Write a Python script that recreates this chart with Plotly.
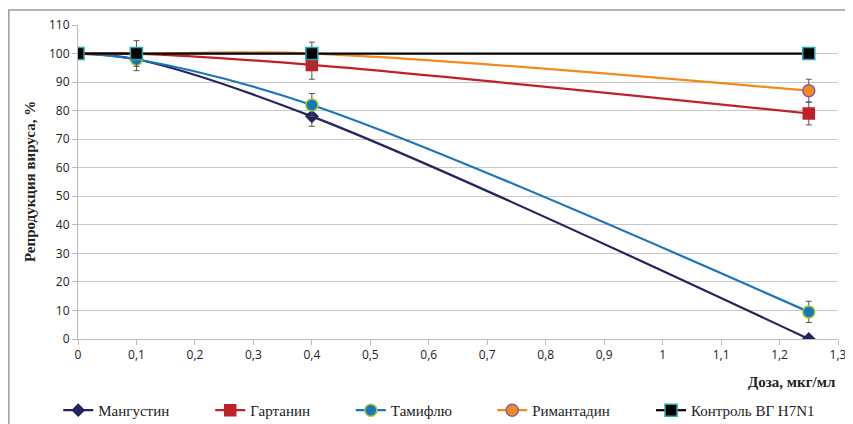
import plotly.graph_objects as go

dose = [0, 0.1, 0.4, 1.25]
series_names = ["Мангустин", "Гартанин", "Тамифлю", "Римантадин", "Контроль ВГ H7N1"]
mangustin = [100, 98, 78, 0]
gartanin = [100, 100, 96, 79]
tamiflu = [100, 98, 82, 9.5]
rimantadin = [100, 100, 100, 87]
control = [100, 100, 100, 100]

err_mangustin = [0, 0, 3.5, 0.5]
err_gartanin = [0, 0, 5, 4]
err_tamiflu = [0, 4, 4, 3.7]
err_rimantadin = [0, 0, 0, 4]
err_control = [0, 4.5, 4, 0]

x_ticks = [0, 0.1, 0.2, 0.3, 0.4, 0.5, 0.6, 0.7, 0.8, 0.9, 1, 1.1, 1.2, 1.3]
x_tick_text = ["0", "0,1", "0,2", "0,3", "0,4", "0,5", "0,6", "0,7", "0,8", "0,9", "1", "1,1", "1,2", "1,3"]
y_ticks = list(range(0, 111, 10))

SERIF = "Liberation Serif"

styles = [
    dict(y=mangustin, e=err_mangustin, color="#22245e", symbol="diamond", size=9, oc="#22245e"),
    dict(y=gartanin, e=err_gartanin, color="#c0202a", symbol="square", size=11, oc="#c0202a"),
    dict(y=tamiflu, e=err_tamiflu, color="#1a75bc", symbol="circle", size=12, oc="#9acd32"),
    dict(y=rimantadin, e=err_rimantadin, color="#f28a1c", symbol="circle", size=12, oc="#8a5aa8"),
    dict(y=control, e=err_control, color="#000000", symbol="square", size=12, oc="#2aa6b8"),
]
legend_ids = ["legend", "legend2", "legend3", "legend4", "legend5"]
legend_x = [-0.026, 0.174, 0.359, 0.545, 0.754]

fig = go.Figure()
for name, s, lid in zip(series_names, styles, legend_ids):
    fig.add_trace(go.Scatter(
        x=dose, y=s["y"], name=name, mode="lines+markers", legend=lid,
        line=dict(color=s["color"], width=2.2, shape="spline", smoothing=1.0),
        marker=dict(symbol=s["symbol"], size=s["size"], color=s["color"],
                    line=dict(color=s["oc"], width=1.5)),
        error_y=dict(type="data", array=s["e"], visible=True, color="#555555",
                     thickness=1, width=3),
    ))

legend_common = dict(orientation="h", xanchor="left", y=-0.175, yanchor="top",
                     font=dict(family=SERIF, size=15, color="#222"),
                     bgcolor="rgba(0,0,0,0)", itemwidth=30)

layout_legends = {}
for lid, lx in zip(legend_ids, legend_x):
    layout_legends[lid] = dict(legend_common, x=lx)

fig.update_layout(
    width=845, height=416,
    margin=dict(l=70, r=15, t=17, b=85, autoexpand=False),
    plot_bgcolor="white", paper_bgcolor="white",
    showlegend=True,
    xaxis=dict(range=[0, 1.3], tickvals=x_ticks, ticktext=x_tick_text,
               showgrid=False, zeroline=False, showline=True, linecolor="#bbbbbb",
               ticks="outside", ticklen=5, tickcolor="#bbbbbb", automargin=False,
               tickfont=dict(family="Open Sans", size=12, color="#222")),
    yaxis=dict(range=[0, 110], tickvals=y_ticks,
               showgrid=True, gridcolor="#c8c8c8", gridwidth=1, zeroline=False,
               showline=True, linecolor="#bbbbbb", automargin=False,
               ticks="outside", ticklen=5, tickcolor="#bbbbbb",
               tickfont=dict(family="Open Sans", size=12, color="#222")),
    annotations=[
        dict(text="<b>Доза, мкг/мл</b>", xref="paper", yref="paper",
             x=1.0, y=-0.105, xanchor="right", yanchor="top", showarrow=False,
             font=dict(family=SERIF, size=15, color="#222")),
        dict(text="<b>Репродукция вируса, %</b>", xref="paper", yref="paper",
             x=-0.063, y=0.5, xanchor="center", yanchor="middle", showarrow=False,
             textangle=-90, font=dict(family=SERIF, size=15, color="#222")),
    ],
    shapes=[dict(type="rect", xref="paper", yref="paper", x0=-0.091, y0=-0.3,
                 x1=1.05, y1=1.048, line=dict(color="#9a9a9a", width=1.5),
                 fillcolor="rgba(0,0,0,0)", layer="below")],
    **layout_legends,
)

fig.write_html("out.html")
